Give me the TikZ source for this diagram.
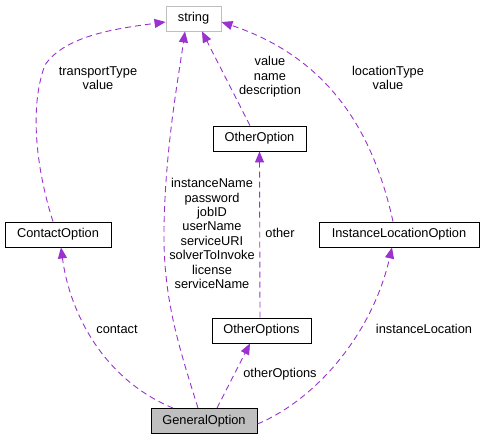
\documentclass[tikz,border=0pt]{standalone}
\usepackage{fontspec}
\setmainfont{Liberation Sans}
\usetikzlibrary{arrows.meta}
\definecolor{edgepurple}{HTML}{9A32CD}
\definecolor{boxgray}{HTML}{BFBFBF}
\tikzset{
  cls/.style={draw=black, line width=0.9pt, minimum height=25pt, inner sep=0pt, font=\fontsize{12.8}{14.4}\selectfont, fill=white},
  lbl/.style={align=center, inner sep=0pt, font=\fontsize{12.8}{14.4}\selectfont},
  rel/.style={draw=edgepurple, line width=0.9pt, dash pattern=on 6pt off 4pt, -{Triangle[length=11pt,width=9pt]}, edgepurple}
}
\begin{document}
\begin{tikzpicture}[x=1pt,y=-1pt]
\useasboundingbox (0,0) rectangle (483,440);
\node[cls, draw=boxgray, minimum width=55pt] (string) at (193.5,18.5) {string};
\node[cls, minimum width=93pt] (otheroption) at (259.5,138.5) {OtherOption};
\node[cls, minimum width=106pt] (contact) at (58,234.5) {ContactOption};
\node[cls, minimum width=160pt] (instloc) at (399,234.5) {InstanceLocationOption};
\node[cls, minimum width=99pt] (otheroptions) at (261.5,330.5) {OtherOptions};
\node[cls, fill=boxgray, minimum width=106pt] (general) at (204,421) {GeneralOption};

% ContactOption -> string
\draw[rel] ([xshift=-5pt]contact.north) .. controls (38,175) and (28,110) .. (45,65) .. controls (65,35) and (120,28) .. ([yshift=-3.5pt]string.west);
% GeneralOption -> ContactOption
\draw[rel] ([xshift=-31pt]general.north) .. controls (105,380) and (70,315) .. ([xshift=3pt]contact.south);
% GeneralOption -> string
\draw[rel] ([xshift=-6pt]general.north) .. controls (180,350) and (163,300) .. (164,230) .. controls (165,150) and (178,80) .. ([xshift=-8.5pt]string.south);
% OtherOptions -> OtherOption
\draw[rel] ([xshift=-1.5pt]otheroptions.north) -- (otheroption.south);
% GeneralOption -> OtherOptions
\draw[rel] ([xshift=13pt]general.north) -- ([xshift=-11.5pt]otheroptions.south);
% OtherOption -> string
\draw[rel] ([xshift=-9.5pt]otheroption.north) -- ([xshift=8.5pt]string.south);
% InstanceLocationOption -> string
\draw[rel] ([xshift=-6pt]instloc.north) .. controls (375,140) and (335,60) .. ([yshift=-3.5pt]string.east);
% GeneralOption -> InstanceLocationOption
\draw[rel] ([yshift=-3pt]general.east) .. controls (315,400) and (372,335) .. ([xshift=-7pt]instloc.south);

\node[lbl] (l1) at (98,78) {transportType\\value};
\node[lbl] (l2) at (270,77) {value\\name\\description};
\node[lbl] (l3) at (388,78) {locationType\\value};
\node[lbl] (l4) at (212,233.5) {instanceName\\password\\jobID\\userName\\serviceURI\\solverToInvoke\\license\\serviceName};
\node[lbl] (l5) at (280,233) {other};
\node[lbl] (l6) at (117,329) {contact};
\node[lbl] (l7) at (280,374) {otherOptions};
\node[lbl] (l8) at (424,329) {instanceLocation};
\end{tikzpicture}
\end{document}
